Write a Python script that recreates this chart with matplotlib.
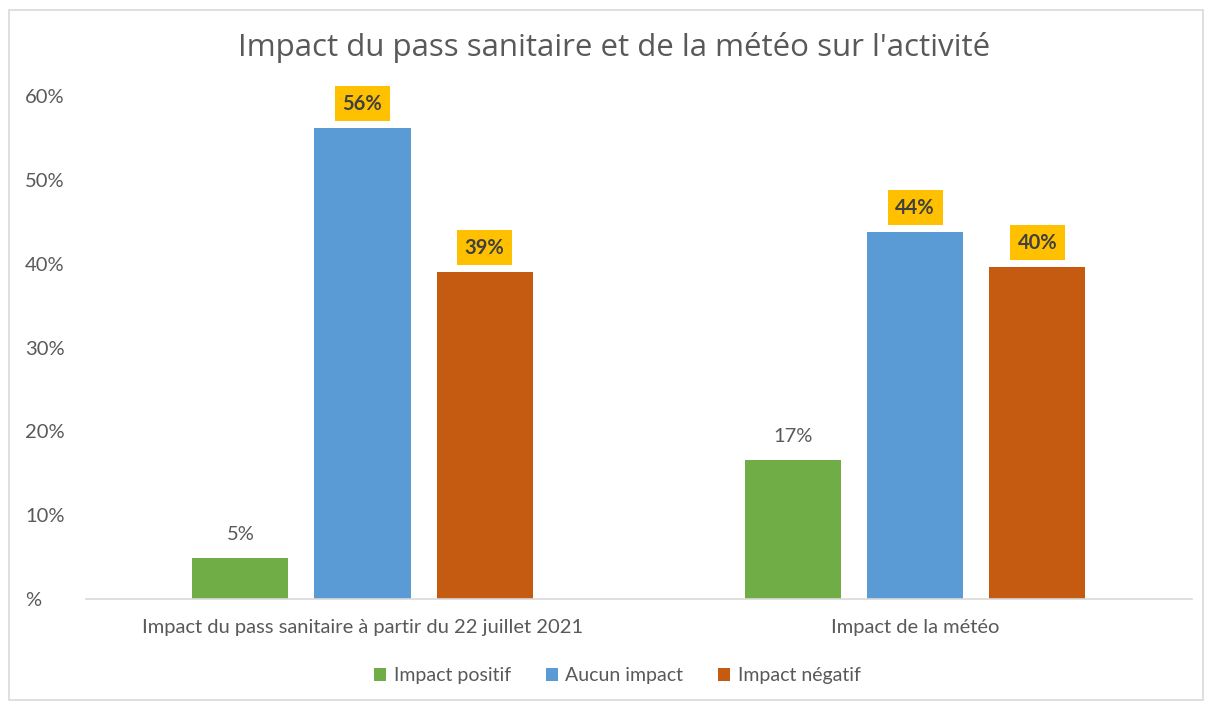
import matplotlib.pyplot as plt
from matplotlib.patches import Rectangle
import numpy as np

# data
categories = ["Impact du pass sanitaire à partir du 22 juillet 2021", "Impact de la météo"]
series = ["Impact positif", "Aucun impact", "Impact négatif"]
positif = [0.049, 0.166]
aucun = [0.562, 0.438]
negatif = [0.39, 0.396]
labels = [["5%", "17%"], ["56%", "44%"], ["39%", "40%"]]
highlight = [False, True, True]
colors = ["#70AD47", "#5B9BD5", "#C55A11"]
yticks = [0, 0.1, 0.2, 0.3, 0.4, 0.5, 0.6]
ytick_labels = ["%", "10%", "20%", "30%", "40%", "50%", "60%"]

grey = "#595959"
font = "Lato"

fig = plt.figure(figsize=(12.06, 7.04), dpi=100)
fig.patches.append(Rectangle((9 / 1206, 4 / 704), 1194 / 1206, 690 / 704, transform=fig.transFigure,
                             fill=False, edgecolor="#d9d9d9", linewidth=1.2))
ax = fig.add_axes([0.0715, 0.149, 0.9165, 0.7145])

x = np.arange(len(categories))
width = 0.174
step = 0.221
values = [positif, aucun, negatif]
for i, (vals, col) in enumerate(zip(values, colors)):
    pos = x + (i - 1) * step
    ax.bar(pos, vals, width=width, color=col, label=series[i])
    for xp, v, lab in zip(pos, vals, labels[i]):
        if highlight[i]:
            ax.annotate(lab, (xp, v), xytext=(0, 17.5), textcoords="offset points",
                        ha="center", va="center", fontsize=14.5, fontweight="bold",
                        color="#404040", family=font,
                        bbox=dict(boxstyle="square,pad=0.38", fc="#FFC000", ec="none"))
        else:
            ax.annotate(lab, (xp, v), xytext=(0, 17), textcoords="offset points",
                        ha="center", va="center", fontsize=14.5, color=grey, family=font)

ax.set_xlim(-0.5, 1.5)
ax.set_ylim(0, 0.6)
ax.set_xticks(x)
ax.set_xticklabels(categories, fontsize=14.5, color=grey, family=font)
ax.set_yticks(yticks)
ax.set_yticklabels(ytick_labels, fontsize=14.5, color=grey, family=font)
ax.tick_params(axis="both", length=0)
ax.tick_params(axis="x", pad=14)
ax.tick_params(axis="y", pad=44)
for lab in ax.get_yticklabels():
    lab.set_horizontalalignment("left")
for s in ["top", "right", "left"]:
    ax.spines[s].set_visible(False)
ax.spines["bottom"].set_color("#d9d9d9")
ax.spines["bottom"].set_linewidth(1.2)

fig.text(0.509, 0.932, "Impact du pass sanitaire et de la météo sur l'activité",
         ha="center", va="center", fontsize=22.5, color=grey, family="Open Sans")

fig.legend(loc="center", bbox_to_anchor=(0.512, 0.04), ncol=3, frameon=False,
           prop={"family": font, "size": 14}, labelcolor=grey,
           handlelength=0.6, handleheight=0.6, handletextpad=0.4, columnspacing=1.8)

fig.savefig("out.png", dpi=100)
